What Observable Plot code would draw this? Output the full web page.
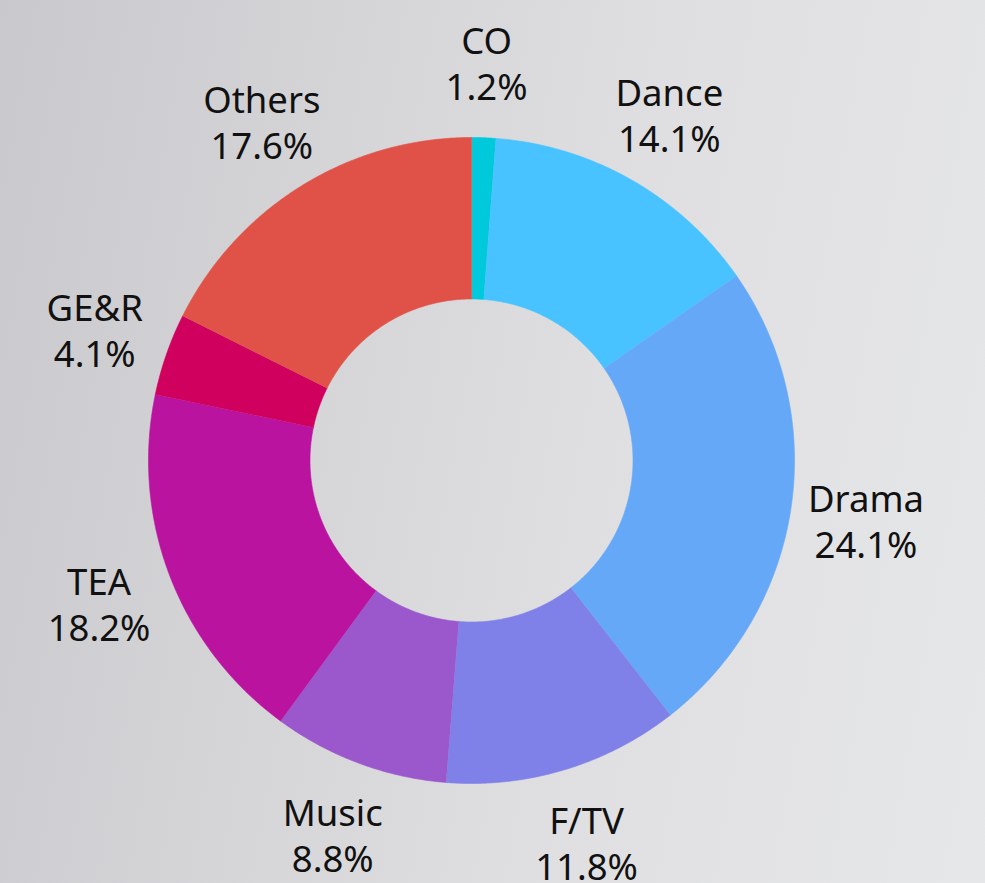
<!DOCTYPE html>
<html>
<head>
<meta charset="utf-8">
<script src="https://cdn.jsdelivr.net/npm/d3@7"></script>
<script src="https://cdn.jsdelivr.net/npm/@observablehq/plot@0.6"></script>
<style>
  html, body { margin: 0; padding: 0; }
  body {
    width: 985px; height: 883px; overflow: hidden;
    background: linear-gradient(100deg, #c9c8cc 0%, #d6d6d9 35%, #dfdfe1 60%, #e6e7e8 100%);
  }
</style>
</head>
<body>
<div id="chart"></div>
<script>
const categories = ["CO", "Dance", "Drama", "F/TV", "Music", "TEA", "GE&R", "Others"];
const shares = [1.2, 14.1, 24.1, 11.8, 8.8, 18.2, 4.1, 17.6];
const labels = ["1.2%", "14.1%", "24.1%", "11.8%", "8.8%", "18.2%", "4.1%", "17.6%"];
const colors = ["#00c9dc", "#48c3ff", "#66a8f8", "#7f81e8", "#9a58cc", "#ba13a0", "#d0005e", "#e05248"];

const W = 985, H = 883;
const CX = 471, CY = 460, R = 323;   // pixel geometry of the ring
const inner = 0.5;                   // inner radius as fraction of outer
const labelR = 1.235;

const arcs = d3.pie().sort(null).value(d => d)(shares);

// Build ring polygons in unit coordinates (angle 0 = 12 o'clock, clockwise)
const poly = [];
arcs.forEach((a, i) => {
  const n = Math.max(2, Math.ceil((a.endAngle - a.startAngle) / (Math.PI / 360)));
  for (let k = 0; k <= n; k++) {
    const t = a.startAngle + (a.endAngle - a.startAngle) * k / n;
    poly.push({name: categories[i], x: Math.sin(t), y: Math.cos(t)});
  }
  for (let k = n; k >= 0; k--) {
    const t = a.startAngle + (a.endAngle - a.startAngle) * k / n;
    poly.push({name: categories[i], x: inner * Math.sin(t), y: inner * Math.cos(t)});
  }
});

const labelData = arcs.map((a, i) => {
  const t = (a.startAngle + a.endAngle) / 2;
  return {name: categories[i], text: categories[i] + "\n" + labels[i],
          x: labelR * Math.sin(t), y: labelR * Math.cos(t)};
});

const chart = Plot.plot({
  width: W, height: H,
  margin: 0,
  style: {background: "transparent", fontFamily: "'Noto Sans', sans-serif"},
  x: {domain: [-CX / R, (W - CX) / R], range: [0, W], axis: null},
  y: {domain: [-(H - CY) / R, CY / R], range: [H, 0], axis: null},
  color: {domain: categories, range: colors},
  marks: [
    Plot.line(poly, {x: "x", y: "y", z: "name", fill: "name", stroke: "name", strokeWidth: 0.6}),
    Plot.text(labelData, {x: "x", y: "y", text: "text", fontSize: 36.5, lineHeight: 1.27,
      fill: "#111", textAnchor: "middle", lineAnchor: "middle"})
  ]
});
document.getElementById("chart").appendChild(chart);
</script>
</body>
</html>
